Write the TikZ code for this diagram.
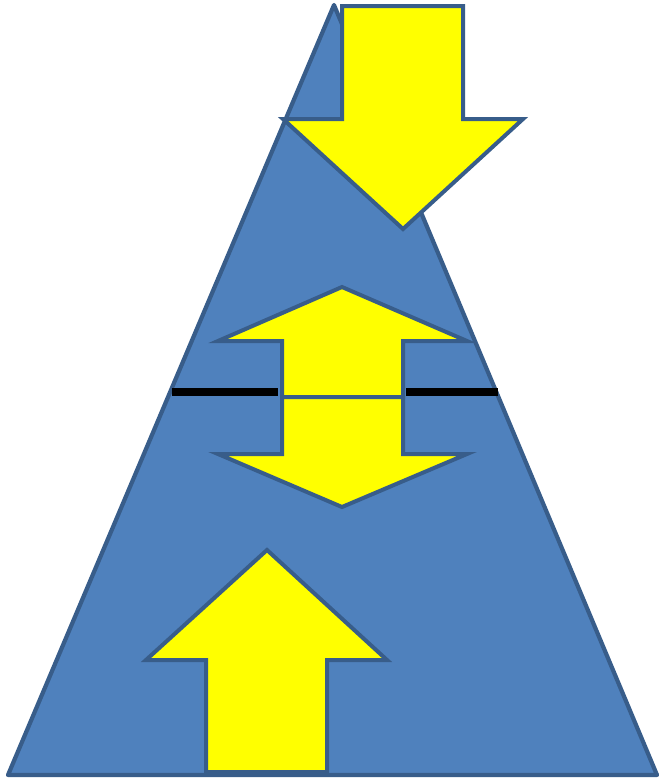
\documentclass[tikz,border=0pt]{standalone}
\usepackage{tikz}
\definecolor{pyrblue}{HTML}{4F81BD}
\definecolor{edgeblue}{HTML}{385D8A}
\definecolor{flowyellow}{HTML}{FFFF00}

\begin{document}
\begin{tikzpicture}[
  x=1pt, y=-1pt,
  pyramid/.style={
    draw=edgeblue,
    fill=pyrblue,
    line width=4.2pt,
    line join=round
  },
  bigarrow/.style={
    draw=edgeblue,
    fill=flowyellow,
    line width=4pt,
    line join=miter
  },
  divider/.style={
    draw=black,
    line width=8pt
  }
]
\useasboundingbox (0,0) rectangle (659,782);

% pyramid
\draw[pyramid] (334,5) -- (657,775) -- (8,775) -- cycle;

% arrow coming in from the top
\draw[bigarrow] (342,6) -- (463,6) -- (463,119) -- (523,119)
  -- (403,229) -- (283,119) -- (342,119) -- cycle;

% two-way arrow at the boundary
\draw[bigarrow] (342,287) -- (467,341) -- (403,341) -- (403,397)
  -- (282,397) -- (282,341) -- (218,341) -- cycle;
\draw[bigarrow] (282,397) -- (403,397) -- (403,454) -- (467,454)
  -- (342,507) -- (218,454) -- (282,454) -- cycle;

% boundary line
\draw[divider] (172,392) -- (278,392);
\draw[divider] (406,392) -- (498,392);

% arrow rising from the base
\draw[bigarrow] (267,550) -- (387,660) -- (327,660) -- (327,772)
  -- (206,772) -- (206,660) -- (146,660) -- cycle;
\end{tikzpicture}
\end{document}
